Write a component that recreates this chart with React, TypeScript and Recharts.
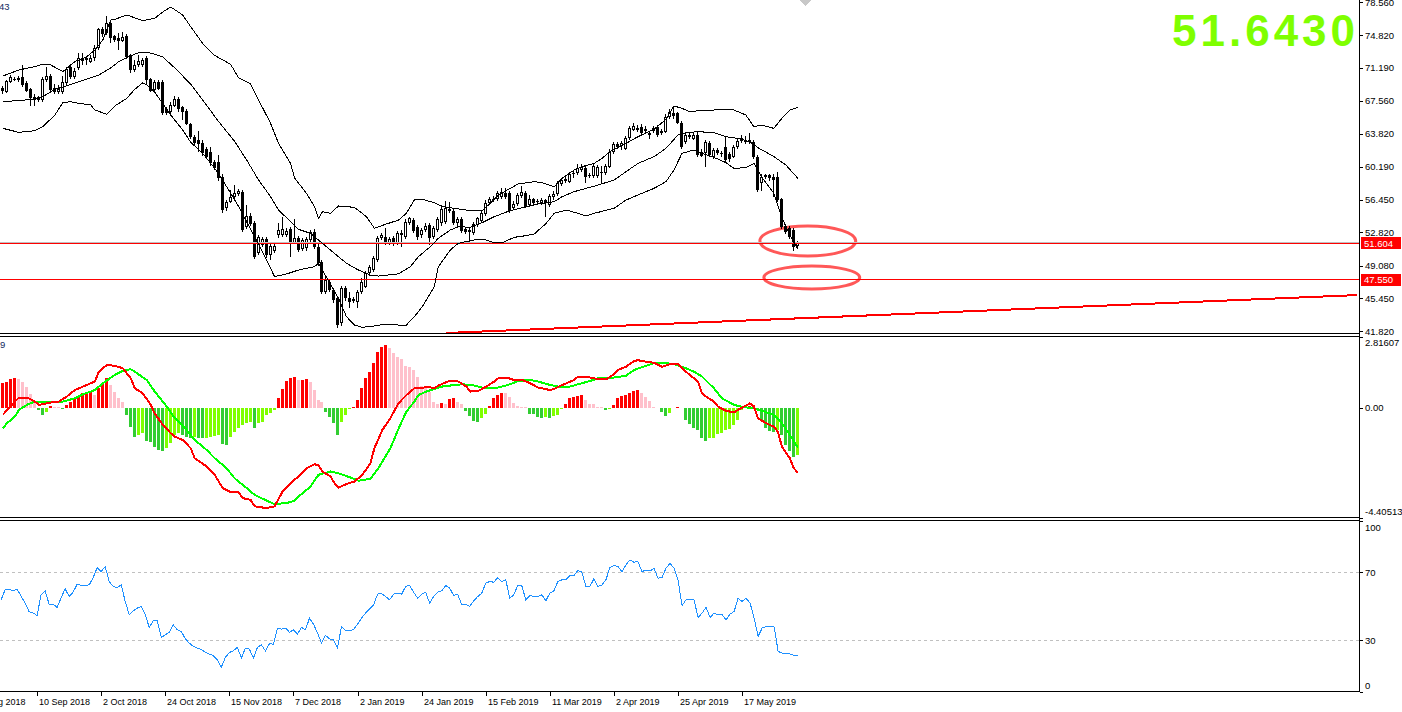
import React from 'react';
import { ComposedChart, Bar, Line, XAxis, YAxis, ReferenceLine, ReferenceArea, Cell } from 'recharts';

const FONT = '"Liberation Sans", Arial, sans-serif';
const K_FIRST = -7;
const K_LAST = 339;

// Daily candles [open, high, low, close], bar 0 = 28 Aug 2018
const CANDLES: number[][] = [
  [69.0, 69.2, 68.3, 68.6], [68.55, 69.9, 68.4, 69.78], [69.66, 70.4, 69.5, 70.15], [69.9, 70.2, 69.7, 70.0], [70.1, 70.3, 69.6, 69.8],
  [70.15, 71.5, 69.1, 69.29], [69.55, 69.7, 68.5, 68.66], [68.8, 69.0, 66.95, 67.8], [67.95, 68.3, 66.95, 67.7], [67.95, 68.1, 67.4, 67.6],
  [67.6, 70.2, 67.4, 69.96], [69.85, 71.34, 69.6, 70.33], [70.3, 70.5, 68.5, 68.73], [68.95, 69.4, 68.3, 68.55], [68.55, 69.3, 68.3, 68.9],
  [68.55, 70.3, 68.3, 69.66], [69.48, 71.3, 69.3, 71.04], [71.34, 71.6, 70.0, 70.22], [70.22, 71.2, 70.0, 70.85], [71.15, 72.83, 71.0, 72.27],
  [72.27, 72.83, 71.5, 72.0], [72.1, 72.45, 71.5, 72.27], [71.9, 72.6, 71.7, 72.35], [72.27, 73.76, 71.97, 73.38], [73.38, 75.7, 73.2, 75.5],
  [75.5, 75.8, 74.7, 74.95], [75.06, 77.0, 74.9, 76.25], [76.25, 76.55, 73.94, 74.5], [74.76, 74.9, 74.1, 74.32], [74.5, 75.06, 73.2, 74.25],
  [74.25, 75.25, 74.1, 74.69], [74.76, 75.0, 72.2, 72.45], [72.64, 72.8, 70.6, 70.97], [70.97, 72.08, 70.78, 71.52], [71.5, 72.64, 71.3, 72.0],
  [71.52, 72.3, 71.3, 72.08], [72.27, 72.5, 69.29, 69.85], [69.96, 70.1, 68.5, 68.66], [68.73, 69.9, 68.5, 69.66], [69.66, 69.85, 68.7, 68.9],
  [69.66, 69.85, 65.9, 66.13], [66.57, 66.8, 65.9, 66.13], [66.31, 67.4, 66.0, 67.06], [66.95, 68.1, 66.8, 67.7], [67.7, 68.0, 66.3, 66.57],
  [66.8, 67.0, 65.38, 66.31], [66.39, 66.6, 64.8, 64.94], [64.94, 65.1, 63.3, 63.52], [63.52, 63.7, 62.6, 62.78], [63.15, 64.1, 61.85, 62.7],
  [62.85, 63.2, 61.4, 61.66], [62.2, 62.4, 61.1, 61.29], [61.85, 62.4, 60.3, 60.54], [60.73, 60.9, 59.8, 59.99], [60.73, 61.5, 58.6, 58.87],
  [59.05, 59.3, 54.96, 55.33], [55.52, 56.5, 55.2, 56.26], [56.26, 57.57, 56.1, 56.82], [56.82, 58.1, 56.6, 57.19], [57.12, 57.7, 56.9, 57.49],
  [57.38, 57.6, 52.9, 53.1], [53.4, 55.9, 53.2, 54.66], [54.66, 55.0, 53.5, 53.77], [53.92, 54.1, 49.9, 50.12], [50.49, 52.5, 50.3, 52.28],
  [51.42, 52.3, 51.2, 52.06], [52.06, 52.3, 50.0, 50.31], [50.31, 51.5, 49.75, 51.31], [50.76, 51.6, 50.5, 51.31], [52.54, 53.84, 52.17, 53.1],
  [52.54, 54.59, 52.3, 53.17], [52.54, 53.3, 52.3, 53.02], [53.17, 53.4, 50.12, 51.68], [51.68, 54.3, 51.5, 52.17], [52.17, 52.4, 50.6, 50.87],
  [50.94, 52.2, 50.7, 51.98], [51.05, 52.3, 50.8, 52.06], [51.98, 53.1, 51.7, 52.84], [52.91, 53.2, 51.0, 51.24], [51.24, 51.5, 49.1, 49.38],
  [49.56, 49.8, 46.0, 46.21], [46.21, 47.8, 46.0, 47.52], [47.33, 47.6, 46.2, 46.4], [46.4, 46.6, 45.0, 45.28], [45.47, 45.7, 42.2, 42.49],
  [42.68, 46.8, 42.4, 46.58], [46.58, 46.8, 45.2, 45.47], [45.47, 46.2, 44.35, 45.1], [45.2, 45.6, 44.9, 45.35], [45.1, 46.4, 44.4, 46.21],
  [46.21, 47.7, 46.0, 47.33], [46.77, 48.5, 46.6, 48.26], [48.26, 49.2, 48.0, 49.0], [48.63, 50.2, 48.4, 49.93], [49.75, 52.4, 49.5, 52.17],
  [52.17, 52.8, 52.0, 52.54], [52.35, 53.3, 51.4, 51.61], [51.61, 52.3, 51.4, 52.06], [52.17, 52.4, 51.3, 51.6], [51.61, 53.0, 51.4, 52.73],
  [52.73, 53.1, 51.24, 52.54], [52.35, 54.3, 52.1, 54.03], [53.92, 54.6, 53.7, 54.4], [54.22, 54.4, 52.8, 53.02], [53.47, 53.7, 52.0, 52.35],
  [52.5, 53.3, 52.2, 53.1], [53.1, 53.9, 52.9, 53.55], [53.65, 53.9, 51.42, 52.17], [52.35, 53.5, 52.1, 53.28], [53.1, 54.5, 52.9, 54.29],
  [53.84, 55.9, 53.6, 55.4], [54.03, 56.3, 53.8, 55.52], [55.4, 56.2, 55.0, 55.26], [55.26, 55.5, 53.7, 53.92], [53.92, 54.5, 53.6, 54.29],
  [54.29, 54.5, 52.8, 53.02], [53.17, 53.4, 52.6, 52.91], [52.91, 53.3, 51.68, 53.1], [52.73, 54.0, 52.5, 53.77], [53.66, 54.6, 53.4, 54.4],
  [54.14, 55.2, 53.9, 54.96], [54.89, 56.4, 54.7, 56.15], [56.15, 56.8, 55.9, 56.52], [56.45, 56.9, 56.2, 56.6], [56.52, 57.5, 56.3, 57.27],
  [56.82, 57.75, 56.6, 57.38], [57.27, 57.75, 56.6, 56.82], [57.27, 57.5, 55.0, 55.26], [55.52, 56.3, 55.3, 56.0], [56.0, 57.2, 55.8, 57.0],
  [56.9, 58.0, 56.7, 57.34], [57.27, 57.5, 55.5, 55.71], [55.9, 57.0, 55.7, 56.52], [56.52, 56.7, 55.9, 56.15], [56.2, 56.6, 56.0, 56.37],
  [56.15, 56.7, 55.9, 56.45], [56.45, 56.6, 54.59, 56.15], [55.9, 57.1, 55.7, 56.9], [56.75, 57.4, 56.5, 57.12], [57.12, 58.6, 56.9, 58.38],
  [58.24, 58.9, 58.0, 58.68], [58.6, 59.2, 58.4, 58.8], [58.5, 59.6, 58.3, 59.35], [59.43, 59.8, 58.9, 59.3], [59.43, 60.5, 59.2, 59.99],
  [59.8, 60.43, 59.6, 60.17], [59.99, 60.2, 58.3, 59.05], [59.1, 59.5, 58.9, 59.25], [59.13, 60.5, 58.9, 60.24], [59.1, 60.4, 58.9, 60.17],
  [59.6, 60.2, 58.3, 59.5], [59.43, 60.5, 59.2, 60.24], [60.17, 62.1, 60.0, 61.85], [61.85, 62.9, 61.6, 62.7], [62.7, 62.9, 62.2, 62.41],
  [62.45, 63.0, 62.03, 62.85], [62.2, 63.6, 62.0, 63.34], [63.34, 64.7, 63.1, 64.45], [64.27, 65.0, 64.1, 64.71], [64.5, 64.8, 64.0, 64.3],
  [64.64, 64.9, 63.7, 63.89], [64.1, 64.7, 63.9, 64.4], [63.97, 64.2, 63.22, 63.7], [64.1, 64.7, 63.9, 64.45], [64.56, 64.8, 63.5, 63.7],
  [63.9, 64.4, 63.7, 64.2], [64.08, 66.0, 63.9, 65.75], [65.75, 66.6, 65.5, 66.31], [66.2, 66.69, 65.5, 65.8], [66.13, 66.3, 64.9, 65.09],
  [65.09, 65.3, 62.2, 62.41], [62.96, 64.0, 62.7, 63.71], [63.71, 64.0, 63.3, 63.52], [63.3, 64.08, 63.1, 63.7], [63.71, 64.0, 61.2, 61.47],
  [61.85, 62.1, 61.2, 61.4], [61.66, 63.2, 60.17, 62.96], [62.78, 63.0, 61.2, 61.47], [61.29, 62.3, 61.0, 62.03], [62.03, 62.3, 61.5, 61.75],
  [61.75, 61.9, 61.3, 61.6], [62.41, 63.52, 60.7, 60.92], [61.6, 61.8, 60.7, 60.99], [61.29, 62.6, 61.1, 62.41], [62.41, 63.3, 62.2, 63.04],
  [63.0, 63.7, 62.8, 63.4], [63.2, 63.6, 62.7, 62.9], [62.9, 63.89, 62.7, 63.2], [62.96, 63.2, 61.0, 61.29], [61.29, 61.5, 57.3, 57.57],
  [58.31, 59.3, 57.4, 59.05], [59.05, 59.4, 58.8, 59.2], [59.2, 59.4, 58.6, 58.9], [59.0, 59.4, 56.8, 58.7], [59.05, 59.6, 56.2, 56.45],
  [56.52, 56.7, 53.2, 53.47], [53.5, 53.7, 52.6, 52.9], [53.3, 53.5, 52.1, 52.35], [53.1, 53.3, 50.7, 51.24], [51.3, 51.9, 51.0, 51.643],
];

// Bollinger bands: [bar, value]
const UPPER_BAND: number[][] = [
  [0, 70.3], [4, 70.97], [8, 71.34], [10, 71.64], [12, 71.52], [15, 70.78], [16, 71.15], [18, 71.9], [21, 72.45], [23, 73.2],
  [25, 74.32], [27, 76.55], [28, 76.62], [31, 77.11], [35, 76.47], [38, 76.74], [40, 77.44], [42, 78.0], [45, 77.11], [47, 75.8],
  [50, 73.94], [53, 72.6], [57, 71.6], [59, 70.1], [62, 69.4], [64, 67.62], [67, 65.01], [69, 62.78], [72, 60.54], [73, 58.9],
  [76, 57.19], [78, 55.7], [79, 54.4], [80, 55.15], [82, 54.96], [84, 55.78], [88, 55.63], [91, 54.59], [93, 53.29], [96, 53.77],
  [99, 54.2], [101, 54.96], [103, 56.45], [105, 56.52], [108, 56.15], [110, 55.71], [113, 55.52], [116, 55.33], [120, 55.26], [122, 56.08],
  [124, 57.0], [127, 57.75], [129, 58.24], [133, 58.5], [135, 58.38], [138, 57.94], [140, 58.87], [143, 59.8], [145, 60.17], [148, 60.54],
  [150, 61.1], [152, 61.85], [156, 62.78], [159, 63.52], [163, 64.34], [166, 65.46], [168, 66.95], [170, 66.69], [172, 66.3], [174, 66.42],
  [178, 66.5], [183, 66.5], [186, 65.94], [188, 64.64], [190, 64.82], [193, 64.45], [195, 65.57], [197, 66.5], [199, 66.8],
];
const MIDDLE_BAND: number[][] = [
  [0, 67.43], [5, 67.6], [8, 67.7], [10, 67.99], [13, 68.8], [16, 69.2], [19, 69.66], [22, 70.1], [24, 70.41], [27, 71.2],
  [29, 71.9], [32, 72.55], [34, 72.9], [37, 72.86], [40, 72.42], [43, 71.2], [47, 69.4], [50, 67.62], [54, 65.2], [58, 63.0],
  [61, 60.92], [64, 58.68], [67, 56.82], [69, 55.33], [72, 54.03], [74, 53.17], [77, 52.73], [79, 51.98], [83, 50.49], [86, 49.38],
  [89, 48.63], [92, 48.07], [94, 47.96], [97, 48.1], [99, 48.2], [102, 49.0], [104, 50.12], [107, 51.24], [109, 52.17], [112, 53.1],
  [114, 53.47], [117, 53.4], [120, 53.92], [123, 54.59], [127, 55.26], [131, 55.71], [134, 56.0], [138, 56.26], [140, 56.82], [143, 57.38],
  [146, 57.75], [149, 58.12], [153, 58.68], [156, 59.61], [159, 60.54], [163, 61.29], [166, 62.22], [169, 63.71], [171, 63.97], [174, 64.08],
  [178, 63.97], [181, 63.52], [184, 63.33], [187, 62.96], [189, 62.3], [193, 61.29], [196, 60.36], [199, 58.87],
];
const LOWER_BAND: number[][] = [
  [0, 64.45], [4, 64.0], [8, 64.19], [10, 64.64], [13, 65.94], [15, 67.32], [17, 67.43], [19, 67.24], [22, 67.06], [23, 66.5],
  [26, 66.02], [28, 66.95], [31, 67.8], [33, 68.81], [35, 69.55], [36, 69.29], [38, 68.5], [40, 67.2], [42, 65.94], [45, 64.27],
  [47, 62.9], [50, 61.66], [53, 60.0], [56, 57.94], [59, 55.71], [63, 52.35], [66, 49.75], [68, 47.89], [71, 48.19], [74, 48.63],
  [78, 49.0], [79, 49.38], [84, 45.47], [86, 43.42], [88, 42.49], [90, 42.23], [93, 42.38], [96, 42.6], [99, 42.49], [101, 42.49],
  [103, 43.42], [105, 44.54], [108, 46.77], [109, 49.0], [112, 50.87], [114, 51.61], [117, 51.91], [119, 52.06], [121, 51.98], [123, 51.68],
  [125, 51.68], [128, 52.28], [131, 52.47], [133, 52.65], [136, 53.84], [138, 54.96], [141, 55.33], [144, 54.96], [146, 54.66], [148, 54.96],
  [149, 55.07], [153, 55.52], [156, 56.45], [159, 57.01], [163, 57.75], [166, 58.5], [168, 59.8], [170, 61.66], [173, 62.03], [175, 61.66],
  [178, 61.21], [181, 60.62], [183, 59.98], [186, 60.06], [188, 60.54], [190, 59.0], [193, 57.2], [195, 54.5], [197, 52.5], [199, 51.0],
];

// MACD histogram, one value per bar
const MACD_HIST: number[] = [
  1.00, 1.04, 1.14, 1.17, 1.14, 1.04, 0.84, 0.53, 0.28, -0.09,
  -0.29, -0.19, 0.08, 0.04, 0.03, -0.04, 0.11, 0.24, 0.35, 0.44,
  0.57, 0.64, 0.66, 0.50, 0.77, 0.97, 1.17, 0.90, 0.64, 0.37,
  0.24, -0.29, -0.76, -1.16, -1.09, -1.02, -1.33, -1.38, -1.59, -1.69,
  -1.75, -1.62, -1.42, -1.09, -1.02, -1.09, -1.16, -1.20, -1.16, -1.20,
  -1.22, -1.22, -1.16, -1.12, -1.09, -1.46, -1.49, -1.16, -0.98, -0.82,
  -0.69, -0.62, -0.58, -0.80, -0.62, -0.58, -0.29, -0.23, -0.09, 0.37,
  0.74, 1.08, 1.17, 1.21, 1.10, 1.10, 1.14, 1.04, 0.70, 0.31,
  0.24, -0.16, -0.36, -0.62, -1.09, -0.58, -0.29, -0.05, 0.04, 0.31,
  0.77, 1.17, 1.43, 1.77, 2.23, 2.43, 2.50, 2.39, 2.16, 2.03,
  1.94, 1.67, 1.61, 1.50, 1.24, 0.86, 0.84, 0.64, 0.21, 0.15,
  0.17, 0.16, 0.35, 0.40, 0.24, 0.15, -0.13, -0.32, -0.53, -0.56,
  -0.40, -0.27, 0.08, 0.37, 0.50, 0.60, 0.57, 0.44, 0.17, 0.05,
  0.04, 0.03, -0.24, -0.27, -0.36, -0.40, -0.36, -0.42, -0.32, -0.29,
  -0.05, 0.16, 0.37, 0.41, 0.48, 0.50, 0.31, 0.15, 0.13, 0.04,
  0.01, -0.09, -0.05, 0.11, 0.37, 0.46, 0.50, 0.57, 0.66, 0.70,
  0.60, 0.44, 0.28, 0.01, -0.03, -0.19, -0.32, -0.20, -0.03, 0.04,
  -0.03, -0.49, -0.66, -0.80, -0.89, -1.22, -1.33, -1.22, -1.20, -1.06,
  -1.02, -0.89, -0.86, -0.69, -0.49, -0.09, -0.03, 0.08, 0.11, -0.05,
  -0.53, -0.80, -0.93, -0.98, -0.89, -1.09, -1.49, -1.75, -1.99, -1.91,
];

// MACD lines: [bar, value]
const MACD_FAST: number[][] = [
  [0, -0.29], [1, -0.09], [3, 0.24], [4, 0.4], [6, 0.4], [8, 0.24], [9, 0.11], [11, 0.17], [13, 0.24], [14, 0.24],
  [16, 0.44], [18, 0.7], [21, 0.9], [23, 1.04], [24, 1.43], [26, 1.7], [28, 1.67], [30, 1.57], [32, 1.17], [33, 0.77],
  [35, 0.57], [37, 0.11], [38, -0.23], [40, -0.69], [42, -1.02], [43, -1.16], [45, -1.29], [47, -1.62], [48, -2.02], [51, -2.35],
  [53, -2.68], [55, -3.21], [57, -3.37], [59, -3.37], [60, -3.61], [62, -3.68], [63, -3.94], [66, -4.01], [68, -3.94], [70, -3.35],
  [72, -3.01], [74, -2.75], [76, -2.42], [78, -2.26], [79, -2.31], [80, -2.55], [82, -2.75], [83, -3.01], [84, -3.19], [86, -3.05],
  [88, -2.95], [90, -2.68], [92, -2.22], [93, -1.62], [95, -0.89], [97, -0.42], [99, 0.17], [101, 0.5], [103, 0.77], [105, 0.77],
  [106, 0.84], [108, 0.77], [109, 0.88], [112, 1.08], [114, 1.04], [116, 0.84], [117, 0.64], [119, 0.66], [121, 0.84], [123, 1.04],
  [124, 1.17], [126, 1.2], [128, 1.1], [130, 1.1], [132, 0.97], [134, 0.8], [137, 0.7], [138, 0.74], [140, 0.9], [143, 1.1],
  [144, 1.24], [147, 1.2], [149, 1.13], [151, 1.13], [153, 1.33], [154, 1.5], [156, 1.63], [158, 1.86], [159, 1.89], [161, 1.83],
  [163, 1.79], [165, 1.63], [167, 1.73], [169, 1.73], [171, 1.43], [173, 1.17], [174, 1.04], [175, 0.57], [176, 0.44], [178, 0.24],
  [179, 0.04], [181, -0.13], [183, -0.19], [184, -0.09], [186, 0.08], [187, 0.17], [188, 0.04], [189, -0.42], [191, -0.62], [193, -0.76],
  [194, -0.96], [195, -1.55], [197, -2.02], [198, -2.42], [199, -2.59],
];
const MACD_SLOW: number[][] = [
  [0, -0.82], [1, -0.62], [3, -0.36], [4, -0.09], [6, 0.11], [8, 0.24], [10, 0.24], [13, 0.24], [15, 0.24], [18, 0.37],
  [20, 0.53], [23, 0.7], [25, 0.97], [28, 1.3], [30, 1.47], [32, 1.53], [33, 1.43], [36, 1.1], [38, 0.64], [41, 0.04],
  [43, -0.42], [46, -0.89], [48, -1.29], [51, -1.69], [53, -2.02], [56, -2.42], [58, -2.82], [61, -3.21], [63, -3.48], [66, -3.71],
  [68, -3.85], [71, -3.81], [73, -3.72], [74, -3.55], [77, -3.15], [79, -2.68], [82, -2.55], [84, -2.62], [87, -2.79], [89, -2.92],
  [92, -2.84], [94, -2.42], [97, -1.62], [99, -0.86], [101, -0.16], [103, 0.24], [104, 0.5], [106, 0.64], [108, 0.74], [110, 0.84],
  [113, 0.9], [115, 0.93], [118, 0.88], [120, 0.8], [123, 0.77], [124, 0.8], [127, 0.93], [129, 1.06], [132, 1.1], [134, 1.04],
  [137, 0.9], [139, 0.84], [142, 0.84], [144, 0.93], [147, 1.06], [149, 1.17], [153, 1.2], [156, 1.27], [158, 1.5], [161, 1.67],
  [163, 1.77], [166, 1.77], [168, 1.74], [171, 1.57], [173, 1.43], [175, 1.24], [178, 0.77], [180, 0.37], [183, 0.11], [185, 0.03],
  [188, -0.03], [190, -0.13], [193, -0.29], [195, -0.62], [197, -1.09], [199, -1.59],
];

// RSI, one value per bar
const RSI: number[] = [
  53.7, 59.6, 60.0, 59.0, 60.0, 56.0, 51.8, 46.9, 46.0, 44.6,
  56.7, 59.0, 51.2, 51.2, 49.3, 55.0, 60.2, 55.7, 58.3, 62.9,
  62.2, 62.4, 62.5, 66.8, 72.7, 70.4, 73.3, 64.5, 61.6, 61.0,
  62.5, 52.8, 45.0, 47.3, 48.9, 49.9, 45.0, 37.6, 41.5, 41.5,
  31.7, 33.3, 34.8, 39.1, 36.2, 35.2, 30.9, 28.4, 26.4, 25.5,
  24.5, 23.1, 22.0, 21.0, 18.6, 14.3, 20.0, 22.9, 23.9, 25.9,
  19.6, 25.5, 24.9, 19.6, 25.9, 27.4, 23.9, 28.0, 27.8, 37.2,
  36.6, 37.2, 34.8, 36.2, 33.7, 37.6, 36.2, 43.0, 39.5, 34.3,
  28.4, 32.9, 30.9, 30.3, 25.5, 38.2, 35.8, 35.6, 36.4, 39.5,
  43.0, 46.0, 48.5, 50.8, 57.1, 57.5, 55.7, 53.8, 57.1, 57.7,
  57.1, 61.6, 62.2, 58.3, 54.7, 57.1, 58.3, 51.8, 55.7, 58.3,
  59.0, 62.2, 60.6, 56.3, 57.1, 50.8, 51.2, 49.9, 53.2, 55.7,
  57.7, 63.5, 64.5, 64.1, 66.8, 64.5, 65.5, 54.7, 56.7, 62.2,
  62.0, 53.8, 56.3, 55.7, 55.7, 56.7, 53.2, 57.7, 59.0, 64.5,
  65.5, 65.5, 68.0, 68.0, 70.9, 70.0, 61.6, 61.6, 66.1, 61.6,
  62.5, 65.5, 72.7, 73.9, 73.3, 70.3, 74.3, 77.2, 75.8, 76.2,
  70.3, 71.3, 70.7, 72.3, 66.5, 66.8, 72.3, 75.2, 72.3, 65.5,
  50.4, 53.8, 53.8, 53.8, 43.4, 46.0, 49.3, 43.4, 46.0, 45.0,
  45.0, 42.1, 45.4, 46.9, 54.7, 52.8, 54.7, 51.8, 43.0, 32.3,
  37.2, 38.2, 38.0, 37.8, 23.5, 22.5, 22.5, 22.0, 21.2, 21.0,
];

const DATE_LABELS: [number, string][] = [
  [-7, '17 Aug 2018'], [9, '10 Sep 2018'], [25, '2 Oct 2018'], [41, '24 Oct 2018'], [57, '15 Nov 2018'],
  [73, '7 Dec 2018'], [89, '2 Jan 2019'], [105, '24 Jan 2019'], [121, '15 Feb 2019'], [137, '11 Mar 2019'],
  [153, '2 Apr 2019'], [169, '25 Apr 2019'], [185, '17 May 2019'],
];
const PRICE_TICKS = [78.56, 74.82, 71.19, 67.56, 63.82, 60.19, 56.45, 52.82, 49.08, 45.45, 41.82];
const MACD_TICKS = [2.81607, 0, -4.40513];
const RSI_TICKS = [100, 70, 30, 0];

const PRICE_DOMAIN: [number, number] = [41.597, 78.783];
const MACD_DOMAIN: [number, number] = [-4.40513, 2.81607];
const LAST_PRICE = 51.643;
const LEVEL_1 = 51.604;
const LEVEL_2 = 47.55;
const TREND: [number, number][] = [[111, 41.597], [339, 45.83]];

// ---- build table ----
const rows: any[] = [];
for (let k = K_FIRST; k <= K_LAST; k++) rows.push({ k });
const at = (k: number) => rows[k - K_FIRST];
CANDLES.forEach(([o, h, l, c], k) => Object.assign(at(k), { o, h, l, c, range: [l, h] }));
UPPER_BAND.forEach(([k, v]) => (at(k).upper = v));
MIDDLE_BAND.forEach(([k, v]) => (at(k).middle = v));
LOWER_BAND.forEach(([k, v]) => (at(k).lower = v));
MACD_FAST.forEach(([k, v]) => (at(k).fast = v));
MACD_SLOW.forEach(([k, v]) => (at(k).slow = v));
RSI.forEach((v, k) => (at(k).rsi = v));
MACD_HIST.forEach((v, k) => {
  const prev = k > 0 ? MACD_HIST[k - 1] : v;
  const r = at(k);
  r.hist = v;
  r.histColor = v >= 0 ? (v >= prev ? '#ff0000' : '#ffc0cb') : (v < prev ? '#32cd32' : '#7fff00');
});
const labelMap = new Map<number, string>(DATE_LABELS);

// ---- shapes ----
const CandleShape = (props: any) => {
  const { x, y, width, height } = props;
  const p = props.payload ?? props;
  if (!p || p.o == null || !isFinite(y) || !isFinite(height)) return null;
  const { o, h, l, c } = p;
  const span = h - l;
  const toY = (v: number) => (span > 0 ? y + ((h - v) / span) * height : y);
  const cx = Math.floor(x + width / 2);
  const yH = Math.round(toY(h));
  const yL = Math.round(toY(l));
  const yT = Math.round(toY(Math.max(o, c)));
  let yB = Math.round(toY(Math.min(o, c)));
  const bull = c > o;
  const flat = yB - yT <= 1;
  if (flat) yB = yT + 1;
  return (
    <g>
      <line x1={cx + 0.5} x2={cx + 0.5} y1={yH} y2={yT} stroke="#000" />
      <line x1={cx + 0.5} x2={cx + 0.5} y1={yB} y2={yL} stroke="#000" />
      {flat ? (
        <rect x={cx - 1} y={yT} width={3} height={1} fill="#000" />
      ) : bull ? (
        <rect x={cx - 0.5} y={yT + 0.5} width={2} height={yB - yT - 1} fill="#fff" stroke="#000" />
      ) : (
        <rect x={cx - 1} y={yT} width={3} height={yB - yT} fill="#000" />
      )}
    </g>
  );
};

const EllipseShape = (props: any) => {
  const { x, y, width, height } = props;
  return (
    <ellipse cx={x + width / 2} cy={y + height / 2} rx={width / 2} ry={height / 2} fill="none"
      stroke="#ff3b3b" strokeOpacity={0.85} strokeWidth={3} shapeRendering="geometricPrecision" />
  );
};

const AxisFlag = (props: any) => {
  const { viewBox, text } = props;
  if (!viewBox) return null;
  const ax = viewBox.x + viewBox.width;
  const yy = viewBox.y;
  return (
    <g>
      <rect x={ax + 2} y={Math.round(yy) - 6} width={40} height={12} fill="#ff0000" />
      <text x={ax + 5} y={yy + 3.5} fill="#fff" fontSize={9.5} fontFamily={FONT}>{text}</text>
    </g>
  );
};

const PriceTick = (props: any) => {
  const { x, y, payload } = props;
  const py = Math.round(y) + 0.5;
  return (
    <g>
      <line x1={x + 1} x2={x + 4} y1={py} y2={py} stroke="#000" />
      <text x={x + 6} y={y + 3.5} fontSize={9.5} fontFamily={FONT} fill="#000">{Number(payload.value).toFixed(3)}</text>
    </g>
  );
};

const MacdTick = (props: any) => {
  const { x, y, payload } = props;
  const v = Number(payload.value);
  const dy = v === MACD_DOMAIN[1] ? 9 : v === MACD_DOMAIN[0] ? -3.5 : 3.5;
  const txt = v === 0 ? '0.00' : v.toFixed(5);
  const py = Math.round(y) + 0.5;
  return (
    <g>
      <line x1={x + 1} x2={x + 4} y1={py} y2={py} stroke="#000" />
      <text x={x + 6} y={y + dy} fontSize={9.5} fontFamily={FONT} fill="#000">{txt}</text>
    </g>
  );
};

const RsiTick = (props: any) => {
  const { x, y, payload } = props;
  const v = Number(payload.value);
  const dy = v === 100 ? 9.5 : v === 0 ? -3 : 3.5;
  const py = Math.round(y) + 0.5;
  return (
    <g>
      <line x1={x + 1} x2={x + 4} y1={py} y2={py} stroke="#000" />
      <text x={x + 6} y={y + dy} fontSize={9.5} fontFamily={FONT} fill="#000">{String(v)}</text>
    </g>
  );
};

const DateTick = (props: any) => {
  const { x, y, payload } = props;
  const label = labelMap.get(Number(payload.value));
  if (!label) return null;
  const px = Math.round(x) + 0.5;
  return (
    <g>
      <line x1={px} x2={px} y1={y} y2={y + 4} stroke="#000" />
      <text x={px + 1.5} y={y + 13} fontSize={9} fontFamily={FONT} fill="#000">{label}</text>
    </g>
  );
};

const W = 1402;
const MARGIN_X = { left: -27, right: 0 };
const AXIS_W = 43;

const hLine = (top: number): React.CSSProperties => ({ position: 'absolute', left: 0, top, width: 1360, height: 1, background: '#000' });

export default function App() {
  return (
    <div style={{ position: 'absolute', left: 0, top: 0, width: W, height: 712, background: '#fff', overflow: 'hidden', shapeRendering: 'crispEdges' } as any}>
      {/* MACD panel */}
      <div style={{ position: 'absolute', left: 0, top: 336 }}>
        <ComposedChart width={W} height={183} data={rows} margin={{ top: 1, bottom: 1, ...MARGIN_X }}>
          <XAxis dataKey="k" type="category" hide />
          <YAxis orientation="right" width={AXIS_W} type="number" domain={MACD_DOMAIN} allowDataOverflow ticks={MACD_TICKS}
            interval={0} axisLine={false} tickLine={false} tickSize={0} tickMargin={0} tick={<MacdTick />} />
          <Bar dataKey="hist" barSize={3} isAnimationActive={false}>
            {rows.map((r, i) => (
              <Cell key={i} fill={r.histColor || 'transparent'} />
            ))}
          </Bar>
          <Line dataKey="slow" stroke="#00ff00" strokeWidth={2} dot={false} activeDot={false} connectNulls isAnimationActive={false} />
          <Line dataKey="fast" stroke="#ff0000" strokeWidth={2} dot={false} activeDot={false} connectNulls isAnimationActive={false} />
        </ComposedChart>
      </div>

      {/* RSI panel */}
      <div style={{ position: 'absolute', left: 0, top: 520 }}>
        <ComposedChart width={W} height={192} data={rows} margin={{ top: 1, bottom: 0, ...MARGIN_X }}>
          <XAxis dataKey="k" type="category" height={20.5} interval={0} axisLine={false} tickLine={false} tickSize={0} tickMargin={0} tick={<DateTick />} />
          <YAxis orientation="right" width={AXIS_W} type="number" domain={[0, 100]} allowDataOverflow ticks={RSI_TICKS}
            interval={0} axisLine={false} tickLine={false} tickSize={0} tickMargin={0} tick={<RsiTick />} />
          <ReferenceLine y={70} stroke="#c0c0c0" strokeDasharray="3 3" />
          <ReferenceLine y={30} stroke="#c0c0c0" strokeDasharray="3 3" />
          <Line dataKey="rsi" stroke="#1e90ff" strokeWidth={1} dot={false} activeDot={false} isAnimationActive={false} />
        </ComposedChart>
      </div>

      {/* Main price panel (taller svg so the lowest price label is not clipped) */}
      <div style={{ position: 'absolute', left: 0, top: 0 }}>
        <ComposedChart width={W} height={342} data={rows} margin={{ top: 0, bottom: 9, ...MARGIN_X }}>
          <XAxis dataKey="k" type="category" hide />
          <YAxis orientation="right" width={AXIS_W} type="number" domain={PRICE_DOMAIN} allowDataOverflow ticks={PRICE_TICKS}
            interval={0} axisLine={false} tickLine={false} tickSize={0} tickMargin={0} tick={<PriceTick />} />
          <ReferenceLine y={51.7} stroke="#c0c0c0" />
          <ReferenceLine y={LEVEL_1} stroke="#ff0000" label={<AxisFlag text={LEVEL_1.toFixed(3)} />} />
          <ReferenceLine y={LEVEL_2} stroke="#ff0000" label={<AxisFlag text={LEVEL_2.toFixed(3)} />} />
          <ReferenceLine segment={[{ x: TREND[0][0], y: TREND[0][1] }, { x: TREND[1][0], y: TREND[1][1] }]} stroke="#ff0000" strokeWidth={2} />
          <Line dataKey="upper" stroke="#000" strokeWidth={1} dot={false} activeDot={false} connectNulls isAnimationActive={false} />
          <Line dataKey="middle" stroke="#000" strokeWidth={1} dot={false} activeDot={false} connectNulls isAnimationActive={false} />
          <Line dataKey="lower" stroke="#000" strokeWidth={1} dot={false} activeDot={false} connectNulls isAnimationActive={false} />
          <Bar dataKey="range" barSize={3} shape={CandleShape} isAnimationActive={false} />
          <ReferenceArea x1={190} x2={213} y1={50.2} y2={53.55} shape={EllipseShape} />
          <ReferenceArea x1={191} x2={214} y1={46.51} y2={49.08} shape={EllipseShape} />
        </ComposedChart>
      </div>

      {/* panel frames */}
      <div style={hLine(333)} />
      <div style={hLine(336)} />
      <div style={hLine(517)} />
      <div style={hLine(520)} />
      <div style={hLine(691)} />
      <div style={{ position: 'absolute', left: 1359, top: 0, width: 1, height: 692, background: '#000' }} />

      {/* chart header fragments and last price */}
      <div style={{ position: 'absolute', left: -1, top: 1, fontFamily: FONT, fontSize: 9.5, color: '#102a60', lineHeight: '11px' }}>43</div>
      <div style={{ position: 'absolute', left: 0, top: 339, fontFamily: FONT, fontSize: 9.5, color: '#102a60', lineHeight: '11px' }}>9</div>
      <div style={{ position: 'absolute', left: 1172, top: 9, fontFamily: FONT, fontWeight: 700, fontSize: 44, letterSpacing: 4, color: '#7fff00', lineHeight: '44px', whiteSpace: 'nowrap' }}>
        {LAST_PRICE.toFixed(4)}
      </div>
      <svg style={{ position: 'absolute', left: 799, top: 0 }} width={14} height={8}>
        <polygon points="0,0 12,0 6,6" fill="#c8c8c8" />
      </svg>
    </div>
  );
}
